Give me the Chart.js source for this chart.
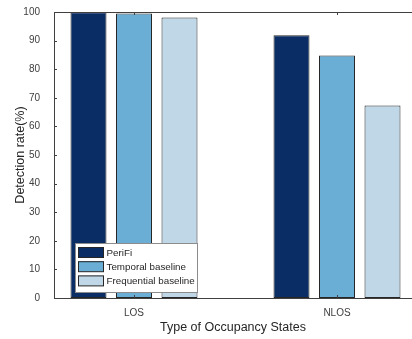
<!DOCTYPE html>
<html>
<head>
<meta charset="utf-8">
<script src="https://cdn.jsdelivr.net/npm/chart.js@4/dist/chart.umd.min.js"></script>
<style>
  html, body { margin: 0; padding: 0; background: #ffffff; overflow: hidden; }
  canvas { display: block; }
</style>
</head>
<body>
<canvas id="c" width="412" height="339"></canvas>
<script>
// ---- data ----
const categories = ['LOS', 'NLOS'];
const categoryPositions = [1, 2];
const seriesNames = ['PeriFi', 'Temporal baseline', 'Frequential baseline'];
const periFi = [99.9, 91.9];
const temporalBaseline = [99.5, 84.8];
const frequentialBaseline = [98.1, 67.3];
const yTicks = [0, 10, 20, 30, 40, 50, 60, 70, 80, 90, 100];
const xTitle = 'Type of Occupancy States';
const yTitle = 'Detection rate(%)';

const seriesValues = [periFi, temporalBaseline, frequentialBaseline];
const seriesColors = ['#0b2d66', '#6aaed6', '#bfd7e7'];

const FONT = '"Liberation Sans", Arial, Helvetica, sans-serif';
const AXIS_COLOR = '#404040';
const TEXT_COLOR = '#404040';

const datasets = seriesNames.map((name, s) => ({
  label: name,
  data: categoryPositions.map((x, i) => ({ x: x, y: seriesValues[s][i] })),
  backgroundColor: seriesColors[s],
  borderColor: '#262626',
  borderWidth: 1,
  borderSkipped: false,
  categoryPercentage: 0.6724,
  barPercentage: 0.791
}));

const matlabAxes = {
  id: 'matlabAxes',
  afterDatasetsDraw(chart) {
    const { ctx, chartArea: a, scales } = chart;
    ctx.save();
    ctx.strokeStyle = AXIS_COLOR;
    ctx.lineWidth = 1;
    ctx.beginPath();
    // top box line
    ctx.moveTo(a.left, Math.round(a.top) + 0.5);
    ctx.lineTo(a.right, Math.round(a.top) + 0.5);
    // inward x ticks (bottom and top)
    categoryPositions.forEach(v => {
      const px = Math.round(scales.x.getPixelForValue(v)) + 0.5;
      ctx.moveTo(px, a.bottom);
      ctx.lineTo(px, a.bottom - 3);
      ctx.moveTo(px, a.top);
      ctx.lineTo(px, a.top + 3);
    });
    // inward y ticks
    yTicks.forEach(v => {
      const py = Math.round(scales.y.getPixelForValue(v)) + 0.5;
      ctx.moveTo(a.left, py);
      ctx.lineTo(a.left + 3, py);
    });
    ctx.stroke();

    // legend box
    const lx = a.left + 21, ly = a.bottom - 55, lw = 122, lh = 49;
    ctx.fillStyle = '#ffffff';
    ctx.fillRect(lx, ly, lw, lh);
    ctx.strokeStyle = '#8c8c8c';
    ctx.strokeRect(lx + 0.5, ly + 0.5, lw, lh);
    ctx.font = '9.8px ' + FONT;
    ctx.textBaseline = 'middle';
    ctx.textAlign = 'left';
    chart.data.datasets.forEach((ds, i) => {
      const sy = ly + 4 + i * 14.2;
      ctx.fillStyle = ds.backgroundColor;
      ctx.fillRect(lx + 3, sy, 26, 10.5);
      ctx.strokeStyle = '#262626';
      ctx.strokeRect(lx + 3.5, sy + 0.5, 25, 10);
      ctx.fillStyle = '#262626';
      ctx.fillText(ds.label, lx + 31.5, sy + 5.8);
    });
    ctx.restore();
  }
};

new Chart(document.getElementById('c'), {
  type: 'bar',
  data: { datasets: datasets },
  options: {
    responsive: false,
    animation: false,
    devicePixelRatio: 1,
    layout: { padding: { top: 11, right: 0, left: 0, bottom: 0 } },
    plugins: {
      legend: { display: false },
      tooltip: { enabled: false }
    },
    scales: {
      x: {
        type: 'linear',
        offset: false,
        min: 1 - 80 / 203,
        max: 2 + 75 / 203,
        grid: { display: false },
        border: { display: true, color: AXIS_COLOR, width: 1, z: 1 },
        afterBuildTicks(scale) {
          scale.ticks = categoryPositions.map(v => ({ value: v }));
        },
        ticks: {
          autoSkip: false,
          maxRotation: 0,
          padding: 1,
          color: TEXT_COLOR,
          font: { family: FONT, size: 10 },
          callback: (v) => {
            const i = categoryPositions.indexOf(v);
            return i >= 0 ? categories[i] : '';
          }
        },
        title: {
          display: true,
          text: xTitle,
          color: '#262626',
          font: { family: FONT, size: 12.5 },
          padding: { top: 0, bottom: 4 }
        },
        afterFit(scale) { scale.height = 41; }
      },
      y: {
        min: 0,
        max: 100,
        grid: { display: false },
        border: { display: true, color: AXIS_COLOR, width: 1, z: 1 },
        afterBuildTicks(scale) {
          scale.ticks = yTicks.map(v => ({ value: v }));
        },
        ticks: {
          padding: 6,
          color: TEXT_COLOR,
          font: { family: FONT, size: 10 }
        },
        title: {
          display: true,
          text: yTitle,
          color: '#262626',
          font: { family: FONT, size: 12.5 },
          padding: { top: 13, bottom: 0 }
        },
        afterFit(scale) { scale.width = 54; }
      }
    }
  },
  plugins: [matlabAxes]
});
</script>
</body>
</html>
